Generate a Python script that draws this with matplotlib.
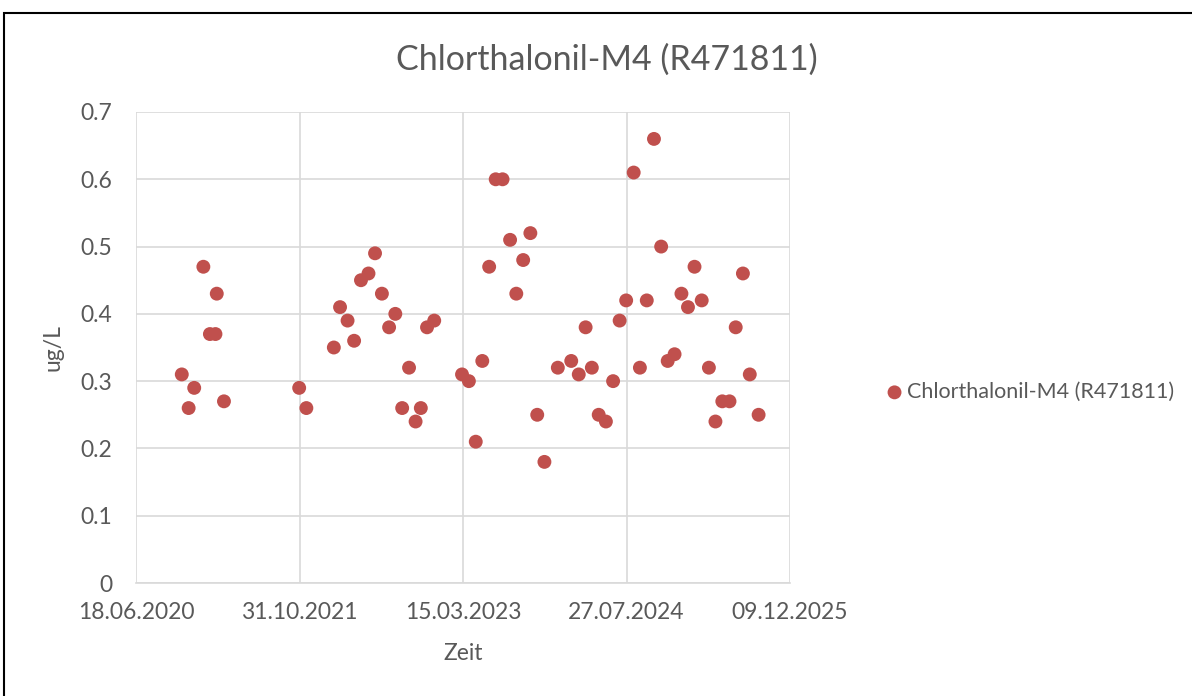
#!/usr/bin/env python3
"""Scatter chart of Chlorthalonil-M4 (R471811) measurements over time."""

import pandas as pd
import matplotlib.pyplot as plt
import matplotlib.dates as mdates
from matplotlib.patches import Rectangle

# Sampling dates and measured concentrations (ug/L)
dates = [
    "2020-11-05", "2020-11-26", "2020-12-13", "2021-01-10", "2021-01-30",
    "2021-02-16", "2021-02-20", "2021-03-14",
    "2021-10-30", "2021-11-21", "2022-02-13", "2022-03-04", "2022-03-27",
    "2022-04-16", "2022-05-07", "2022-05-30", "2022-06-19", "2022-07-10",
    "2022-08-01", "2022-08-20", "2022-09-10", "2022-10-01", "2022-10-21",
    "2022-11-06", "2022-11-25", "2022-12-17",
    "2023-03-12", "2023-04-02", "2023-04-23", "2023-05-13", "2023-06-03",
    "2023-06-23", "2023-07-14", "2023-08-06", "2023-08-25", "2023-09-15",
    "2023-10-07", "2023-10-28", "2023-11-19", "2023-12-30", "2024-02-09",
    "2024-03-03", "2024-03-24", "2024-04-12", "2024-05-03", "2024-05-25",
    "2024-06-16", "2024-07-06", "2024-07-26", "2024-08-18", "2024-09-06",
    "2024-09-27", "2024-10-19", "2024-11-10", "2024-11-30", "2024-12-21",
    "2025-01-11", "2025-01-31", "2025-02-20", "2025-03-14", "2025-04-05",
    "2025-04-25", "2025-05-16", "2025-06-07", "2025-06-26", "2025-07-18",
    "2025-08-08", "2025-09-04",
]
values = [
    0.31, 0.26, 0.29, 0.47, 0.37, 0.37, 0.43, 0.27,
    0.29, 0.26, 0.35, 0.41, 0.39, 0.36, 0.45, 0.46, 0.49, 0.43,
    0.38, 0.40, 0.26, 0.32, 0.24, 0.26, 0.38, 0.39,
    0.31, 0.30, 0.21, 0.33, 0.47, 0.60, 0.60, 0.51, 0.43, 0.48,
    0.52, 0.25, 0.18, 0.32, 0.33, 0.31, 0.38, 0.32, 0.25, 0.24,
    0.30, 0.39, 0.42, 0.61, 0.32, 0.42, 0.66, 0.50, 0.33, 0.34,
    0.43, 0.41, 0.47, 0.42, 0.32, 0.24, 0.27, 0.27, 0.38, 0.46,
    0.31, 0.25,
]
x_ticks = ["2020-06-18", "2021-10-31", "2023-03-15", "2024-07-27", "2025-12-09"]
y_ticks = [0, 0.1, 0.2, 0.3, 0.4, 0.5, 0.6, 0.7]

series_name = "Chlorthalonil-M4 (R471811)"
text_color = "#595959"
grid_color = "#D9D9D9"
marker_color = "#C0504D"

plt.rcParams["font.family"] = ["Lato", "DejaVu Sans"]

fig = plt.figure(figsize=(11.92, 6.96), dpi=100)
ax = fig.add_axes([136 / 1192, 1 - 583 / 696, (790 - 136) / 1192, (583 - 112) / 696])

x = pd.to_datetime(dates)
ticks = pd.to_datetime(x_ticks)

ax.scatter(x, values, s=100, color=marker_color, edgecolors="none",
           label=series_name, zorder=3, clip_on=False)

ax.set_xlim(ticks[0], ticks[-1])
ax.set_ylim(0, 0.7)
ax.set_xticks(ticks)
ax.xaxis.set_major_formatter(mdates.DateFormatter("%d.%m.%Y"))
ax.set_yticks(y_ticks)
ax.set_yticklabels([f"{v:g}" for v in y_ticks])

ax.grid(True, color=grid_color, linewidth=1.2, zorder=0)
for side in ["top", "right", "left"]:
    ax.spines[side].set_visible(False)
ax.spines["bottom"].set_color(grid_color)
ax.spines["bottom"].set_linewidth(1.2)
ax.tick_params(length=0, labelsize=16.5, colors=text_color)
ax.tick_params(axis="x", pad=14)
ax.tick_params(axis="y", pad=17)

ax.set_xlabel("Zeit", fontsize=16.5, color=text_color, labelpad=14)
ax.set_ylabel("ug/L", fontsize=16.5, color=text_color, labelpad=12)
fig.text(607 / 1192, 1 - 60 / 696, series_name, fontsize=24.5,
         color=text_color, ha="center", va="center")

leg = ax.legend(loc="center left", bbox_to_anchor=(873 / 1192, 1 - 392 / 696),
                bbox_transform=fig.transFigure, frameon=False, fontsize=15.5,
                handletextpad=0.0, borderaxespad=0, handlelength=1.2,
                markerscale=1.0)
for t in leg.get_texts():
    t.set_color(text_color)

# Outer chart frame
fig.patches.append(Rectangle((4 / 1192, -0.1), 1.1, 1.1 - 13 / 696,
                             transform=fig.transFigure, fill=False,
                             edgecolor="black", linewidth=1.5))

fig.savefig("out.png", dpi=100)
